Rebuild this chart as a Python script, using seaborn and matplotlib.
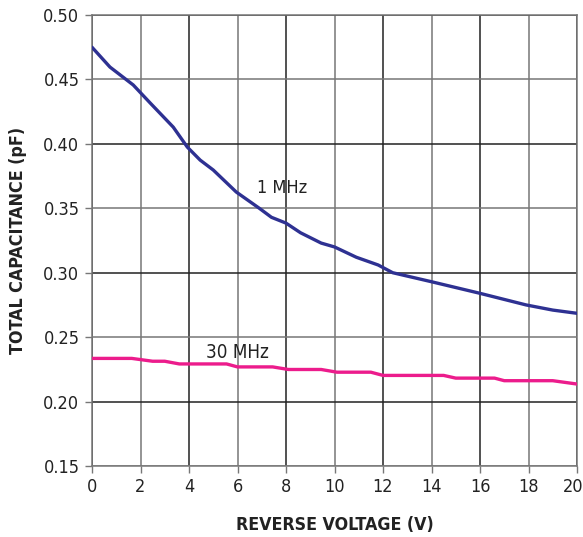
import matplotlib
matplotlib.use("Agg")
import matplotlib.pyplot as plt
import matplotlib.transforms as mtransforms
import seaborn as sns
import pandas as pd

# 1 MHz curve
v_1mhz = [0.0, 0.74, 1.7, 2.4, 3.35, 3.93, 4.46, 5.0, 5.95, 6.9, 7.4, 8.0, 8.6,
          9.45, 10.0, 10.9, 11.8, 12.4, 14.0, 16.0, 17.9, 19.0, 20.0]
c_1mhz = [0.475, 0.4596, 0.4457, 0.4317, 0.413, 0.3975, 0.3874, 0.3797, 0.3626,
          0.350, 0.343, 0.3385, 0.331, 0.323, 0.320, 0.312, 0.306, 0.300, 0.293,
          0.284, 0.275, 0.271, 0.2685]

# 30 MHz curve (stepped)
v_30mhz = [0.0, 1.64, 2.5, 3.0, 3.6, 5.55, 6.0, 7.45, 8.1, 9.45, 10.1, 11.5,
           12.0, 14.5, 15.0, 16.6, 17.0, 19.0, 20.0]
c_30mhz = [0.2335, 0.2335, 0.2313, 0.2313, 0.2292, 0.2292, 0.2269, 0.2269,
           0.2249, 0.2249, 0.2228, 0.2228, 0.2203, 0.2203, 0.2182, 0.2182,
           0.2162, 0.2162, 0.2136]

x_ticks = [0, 2, 4, 6, 8, 10, 12, 14, 16, 18, 20]
y_ticks = [0.15, 0.20, 0.25, 0.30, 0.35, 0.40, 0.45, 0.50]

sns.set_style("white")
plt.rcParams['font.family'] = ['DejaVu Sans']
plt.rcParams['font.stretch'] = 'condensed'

df1 = pd.DataFrame({"v": v_1mhz, "c": c_1mhz})
df30 = pd.DataFrame({"v": v_30mhz, "c": c_30mhz})

fig = plt.figure(figsize=(5.83, 5.37), dpi=100)
ax = fig.add_axes([92 / 583, 1 - 466 / 537, (577 - 92) / 583, (466 - 15) / 537])

# grid, alternating dark / grey lines
for x in x_ticks:
    ax.axvline(x, color="#222222" if x % 4 == 0 else "#777777", lw=1.1, zorder=1)
for y in y_ticks:
    dark = round(y * 100) % 10 == 0
    ax.axhline(y, color="#222222" if dark else "#777777", lw=1.1, zorder=1)

sns.lineplot(data=df1, x="v", y="c", color="#2e3192", lw=2.4, ax=ax, zorder=3)
sns.lineplot(data=df30, x="v", y="c", color="#ec1c8c", lw=2.4, ax=ax, zorder=3)

ax.text(6.8, 0.366, "1 MHz", fontsize=13, va="center", ha="left", color="#222222")
ax.text(4.72, 0.238, "30 MHz", fontsize=13.5, va="center", ha="left", color="#222222")

ax.set_xlim(0, 20)
ax.set_ylim(0.15, 0.50)
ax.set_xticks(x_ticks)
ax.set_yticks(y_ticks)
ax.set_yticklabels([f"{y:.2f}" for y in y_ticks])
ax.tick_params(axis="both", labelsize=13, length=5, width=1, color="#777777",
               direction="out", left=True, bottom=True, pad=4, labelcolor="#222222")
for s in ax.spines.values():
    s.set_color("#777777")
    s.set_linewidth(1.1)

# nudge the last x label so it stays inside the image
last = ax.get_xticklabels()[-1]
last.set_transform(last.get_transform() + mtransforms.ScaledTranslation(-4 / 100, 0, fig.dpi_scale_trans))

ax.set_xlabel("REVERSE VOLTAGE (V)", fontsize=12.8, fontweight="bold", labelpad=14, color="#222222")
ax.set_ylabel("TOTAL CAPACITANCE (pF)", fontsize=12.8, fontweight="bold", labelpad=12, color="#222222")

fig.savefig("out.png", dpi=100)
